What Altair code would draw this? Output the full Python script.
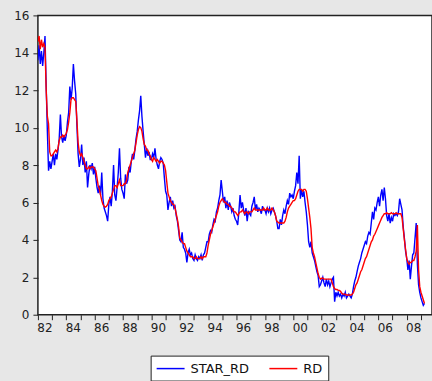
import altair as alt
import pandas as pd

# Monthly series, January 1982 through April 2009
START_YEAR = 1982

rd = [
    14.6, 14.9, 14.2, 14.7, 14.3, 14.5, 14.3, 12.0, 10.6, 10.2, 8.7, 8.5,      # 1982
    8.5, 8.6, 8.7, 8.8, 8.7, 8.9, 9.3, 9.5, 9.5, 9.6, 9.5, 9.6,               # 1983
    9.7, 9.9, 10.3, 10.8, 11.5, 11.6, 11.6, 11.5, 11.4, 10.4, 9.2, 8.7,       # 1984
    8.5, 8.6, 8.4, 8.2, 8.0, 7.8, 7.8, 7.9, 7.8, 7.9, 7.9, 7.9,               # 1985
    7.8, 7.7, 7.3, 6.9, 6.7, 6.4, 6.1, 5.9, 5.8, 5.75, 5.8, 5.9,              # 1986
    6.1, 6.2, 6.3, 6.5, 6.7, 6.9, 6.9, 6.8, 7.0, 7.2, 6.9, 6.9,               # 1987
    6.9, 7.0, 7.0, 7.2, 7.6, 7.8, 8.0, 8.2, 8.4, 8.6, 8.8, 9.2,               # 1988
    9.6, 9.9, 10.05, 10.0, 9.8, 9.4, 9.1, 9.0, 8.8, 8.8, 8.6, 8.5,            # 1989
    8.3, 8.2, 8.4, 8.3, 8.2, 8.3, 8.2, 8.1, 8.2, 8.2, 8.1, 8.0,               # 1990
    7.7, 7.1, 6.5, 6.3, 6.1, 6.0, 5.9, 5.9, 5.7, 5.4, 5.1, 4.7,               # 1991
    4.1, 4.0, 3.9, 3.8, 3.8, 3.6, 3.4, 3.3, 3.2, 3.1, 3.1, 3.1,               # 1992
    3.0, 3.0, 3.1, 3.0, 3.0, 3.0, 3.1, 3.0, 3.1, 3.1, 3.1, 3.3,               # 1993
    3.7, 4.0, 4.3, 4.5, 4.7, 4.9, 5.1, 5.3, 5.5, 5.8, 6.0, 6.1,               # 1994
    6.2, 6.1, 6.0, 6.0, 5.9, 5.9, 5.8, 5.8, 5.7, 5.6, 5.5, 5.5,               # 1995
    5.4, 5.3, 5.4, 5.5, 5.5, 5.6, 5.5, 5.4, 5.5, 5.5, 5.4, 5.5,               # 1996
    5.5, 5.5, 5.6, 5.7, 5.6, 5.6, 5.6, 5.6, 5.6, 5.6, 5.6, 5.7,               # 1997
    5.6, 5.6, 5.7, 5.6, 5.6, 5.6, 5.7, 5.6, 5.5, 5.3, 5.0, 4.95,              # 1998
    4.9, 4.9, 4.9, 4.9, 4.9, 5.0, 5.2, 5.5, 5.7, 5.8, 5.9, 6.0,               # 1999
    6.1, 6.1, 6.2, 6.4, 6.6, 6.7, 6.7, 6.7, 6.6, 6.7, 6.7, 6.6,               # 2000
    6.2, 5.7, 5.2, 4.6, 3.6, 3.3, 3.1, 2.8, 2.5, 2.2, 2.0, 1.9,               # 2001
    1.95, 1.95, 1.9, 1.9, 1.9, 1.9, 1.9, 1.9, 1.9, 1.7, 1.5, 1.4,             # 2002
    1.35, 1.35, 1.3, 1.3, 1.25, 1.15, 1.1, 1.1, 1.1, 1.05, 1.05, 1.05,        # 2003
    1.05, 1.05, 1.1, 1.2, 1.4, 1.6, 1.7, 1.9, 2.1, 2.3, 2.4, 2.6,             # 2004
    2.8, 3.0, 3.1, 3.3, 3.5, 3.7, 3.9, 4.0, 4.2, 4.3, 4.45, 4.6,              # 2005
    4.75, 4.9, 5.05, 5.2, 5.3, 5.4, 5.4, 5.45, 5.4, 5.4, 5.4, 5.45,           # 2006
    5.4, 5.4, 5.4, 5.45, 5.4, 5.4, 5.4, 5.4, 5.2, 4.6, 4.0, 3.5,              # 2007
    3.0, 2.8, 2.7, 2.8, 2.8, 2.9, 2.9, 3.1, 3.4, 4.8, 2.4, 1.5,               # 2008
    1.2, 1.0, 0.8, 0.6,                                                       # 2009
]

star_rd = [
    13.6, 14.4, 13.4, 14.1, 13.3, 14.0, 14.9, 12.2, 9.8, 7.7, 8.2, 7.8,       # 1982
    8.2, 8.6, 8.0, 8.6, 8.3, 8.8, 9.4, 10.7, 9.5, 9.2, 9.6, 9.3,              # 1983
    9.6, 10.3, 10.8, 12.2, 11.5, 12.1, 13.4, 12.5, 11.8, 10.1, 8.6, 7.9,      # 1984
    8.3, 9.1, 8.0, 8.4, 7.6, 8.2, 6.8, 7.5, 8.0, 7.8, 8.1, 7.5,               # 1985
    7.9, 7.3, 6.8, 6.5, 6.9, 6.4, 7.6, 6.2, 5.7, 5.5, 5.3, 5.0,               # 1986
    5.9, 6.3, 5.8, 6.6, 8.0, 6.4, 6.1, 6.8, 7.6, 8.9, 7.3, 6.7,               # 1987
    6.5, 6.2, 7.5, 7.0, 7.2, 7.9, 7.6, 8.2, 8.6, 8.3, 8.8, 9.4,               # 1988
    9.8, 10.4, 10.9, 11.7, 10.6, 9.8, 9.1, 8.4, 8.9, 8.5, 8.7, 8.3,           # 1989
    8.3, 8.6, 8.4, 8.9, 8.3, 8.0, 7.8, 8.2, 8.4, 8.3, 8.1, 7.3,               # 1990
    6.6, 6.4, 5.6, 6.0, 6.3, 5.8, 6.1, 5.7, 5.8, 5.3, 5.0, 4.5,               # 1991
    4.0, 3.9, 4.4, 3.6, 3.5, 3.3, 2.8, 3.3, 3.5, 3.2, 3.3, 3.0,               # 1992
    2.9, 3.2, 3.0, 2.9, 3.1, 3.0, 3.2, 2.9, 3.2, 3.3, 3.6, 3.9,               # 1993
    3.9, 4.3, 4.5, 4.4, 4.8, 5.1, 5.0, 5.5, 5.7, 6.1, 6.4, 7.2,               # 1994
    6.6, 6.0, 6.3, 5.7, 6.1, 5.6, 6.0, 5.8, 5.5, 5.7, 5.3, 5.1,               # 1995
    5.0, 4.8, 5.5, 6.4, 5.7, 6.0, 5.6, 5.3, 5.7, 5.0, 5.5, 5.4,               # 1996
    5.3, 5.8, 6.0, 6.3, 5.6, 5.9, 5.5, 5.7, 5.6, 5.4, 5.8, 5.6,               # 1997
    5.6, 5.4, 5.7, 5.5, 5.7, 5.4, 5.6, 5.7, 5.5, 5.3, 5.0, 4.6,               # 1998
    4.6, 5.1, 4.8, 5.3, 5.6, 5.4, 5.8, 6.1, 5.9, 6.5, 6.3, 6.4,               # 1999
    6.2, 6.6, 6.9, 7.6, 7.0, 8.5, 6.2, 6.7, 6.3, 6.6, 6.0, 5.5,               # 2000
    4.8, 3.9, 3.6, 3.9, 3.3, 3.1, 2.9, 2.6, 2.3, 2.1, 1.5, 1.6,               # 2001
    1.8, 2.0, 1.7, 1.5, 1.9, 1.6, 1.8, 1.5, 1.7, 1.9, 2.0, 0.7,               # 2002
    1.2, 1.0, 1.2, 1.0, 1.1, 0.9, 1.1, 1.0, 1.2, 0.9, 1.0, 1.1,               # 2003
    1.0, 0.9, 1.1, 1.5, 1.8, 2.0, 2.3, 2.6, 2.8, 3.0, 3.3, 3.5,               # 2004
    3.7, 3.9, 3.8, 4.2, 4.4, 4.3, 4.9, 5.5, 5.1, 5.7, 5.6, 6.0,               # 2005
    6.3, 5.8, 6.4, 6.7, 6.1, 6.8, 6.2, 5.3, 5.0, 5.4, 4.9, 5.2,               # 2006
    5.0, 5.4, 5.3, 5.4, 5.3, 5.5, 6.2, 5.9, 5.6, 4.7, 4.1, 3.4,               # 2007
    3.0, 2.4, 2.9, 1.9, 2.6, 3.2, 3.3, 4.1, 4.9, 2.7, 1.6, 1.2,               # 2008
    0.9, 0.7, 0.5, 0.6,                                                       # 2009
]

series_names = ["STAR_RD", "RD"]
series_colors = ["#0000ff", "#ff0000"]
year_ticks = list(range(1982, 2010))
y_ticks = list(range(0, 17, 2))

# long-format table: decimal year for each monthly observation
rows = []
for name, values in (("STAR_RD", star_rd), ("RD", rd)):
    for i, v in enumerate(values):
        rows.append({"series": name, "t": START_YEAR + i / 12.0, "value": v})
df = pd.DataFrame(rows)

FONT = "DejaVu Sans"

base = alt.Chart(df).mark_line(strokeWidth=1.4, clip=True).encode(
    x=alt.X(
        "t:Q",
        title=None,
        scale=alt.Scale(domain=[1982, 2009.78], nice=False, zero=False),
        axis=alt.Axis(
            values=year_ticks,
            labelExpr="datum.value % 2 == 0 ? slice(toString(datum.value), 2) : ''",
            labelOffset=6.5,
            labelFlush=False,
            labelOverlap=False,
            labelPadding=3,
            tickSize=5,
        ),
    ),
    y=alt.Y(
        "value:Q",
        title=None,
        scale=alt.Scale(domain=[0, 16], nice=False),
        axis=alt.Axis(values=y_ticks, tickSize=5, labelPadding=4),
    ),
    color=alt.Color(
        "series:N",
        scale=alt.Scale(domain=series_names, range=series_colors),
        legend=alt.Legend(
            title=None,
            orient="none",
            legendX=113,
            legendY=341,
            direction="horizontal",
            # a wide horizontal stroke drawn inside a short symbol box
            symbolType="M-2,0H2",
            symbolSize=196,
            symbolOffset=7,
            symbolStrokeWidth=1.5,
            labelFont=FONT,
            labelFontSize=13,
            labelColor="#111",
            labelOffset=12,
            columnPadding=17,
            padding=5,
            strokeColor="#222",
            fillColor="white",
            cornerRadius=0,
        ),
    ),
)

star_layer = base.transform_filter("datum.series == 'STAR_RD'")
rd_layer = base.transform_filter("datum.series == 'RD'")

chart = (
    alt.layer(star_layer, rd_layer)
    .properties(
        width=395,
        height=300,
        autosize="none",
        padding={"left": 38, "top": 15, "right": 0, "bottom": 66},
        background="#e7e7e7",
    )
    .configure_view(fill="white", stroke="#222", strokeWidth=1.5)
    .configure_axis(
        domain=False,
        grid=False,
        labelFont=FONT,
        labelFontSize=12,
        labelColor="#222",
        tickColor="#222",
        tickWidth=1,
    )
)

chart.save("out.html", embed_options={"renderer": "svg", "actions": False})
